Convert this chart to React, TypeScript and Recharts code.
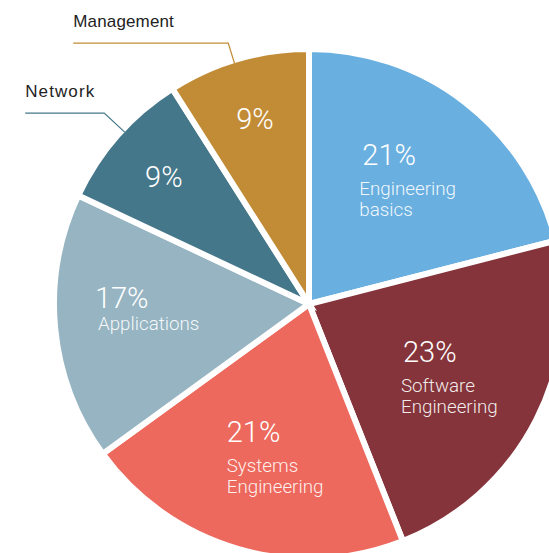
import React from 'react';
import { PieChart, Pie, Cell } from 'recharts';

const categories = [
  'Engineering basics',
  'Software Engineering',
  'Systems Engineering',
  'Applications',
  'Network',
  'Management',
];
const shares = [21, 23, 21, 17, 9, 9];
const colors = ['#69AFE0', '#84343A', '#ED695D', '#96B4C2', '#45778A', '#C28C37'];

const data = categories.map((name, i) => ({ name, value: shares[i] }));

const RAD = Math.PI / 180;

// styling tweaks for the label layout (not data)
const LEADER: Record<string, { da: number; r: number; len: number; ls: number }> = {
  Network: { da: -1.6, r: 28, len: 79, ls: 1.1 },
  Management: { da: 1.0, r: 21, len: 155, ls: 0.15 },
};
const NUDGE: Record<string, { dx: number; pdx: number }> = {
  'Engineering basics': { dx: -47, pdx: 3 },
  'Software Engineering': { dx: -49.5, pdx: 2 },
  'Systems Engineering': { dx: -38, pdx: 0 },
  Applications: { dx: -53, pdx: -3 },
};

const FONT = 'Roboto, "Liberation Sans", sans-serif';

function renderLabel(props: any) {
  const { cx, cy, midAngle, outerRadius, index } = props;
  const name = categories[index];
  const value = shares[index];
  const R = outerRadius - 3;
  const cos = Math.cos(-midAngle * RAD);
  const sin = Math.sin(-midAngle * RAD);

  if (value < 10) {
    const r = 0.768 * R;
    const px = cx + r * cos;
    const py = cy + r * sin;
    const lead = LEADER[name] ?? { da: 0, r: 26, len: 80, ls: 0 };
    const a = -(midAngle + lead.da) * RAD;
    const ex = cx + R * Math.cos(a);
    const ey = cy + R * Math.sin(a);
    const bx = cx + (R + lead.r) * Math.cos(a);
    const by = cy + (R + lead.r) * Math.sin(a);
    const endX = bx - lead.len;
    return (
      <g key={`lbl-${index}`}>
        <text x={px} y={py + 10.5} textAnchor="middle" fill="#fff" fontSize={29}
          style={{ fontFamily: FONT, fontWeight: 300 }}>
          {`${value}%`}
        </text>
        <polyline
          points={`${ex},${ey} ${bx},${by} ${endX},${by}`}
          fill="none"
          stroke={colors[index]}
          strokeWidth={1.2}
        />
        <text x={endX} y={by - 16} textAnchor="start" fill="#222" fontSize={17}
          style={{ fontFamily: '"Liberation Sans", Arial, sans-serif', letterSpacing: lead.ls }}>
          {name}
        </text>
      </g>
    );
  }

  const r = 0.63 * R;
  const ax = cx + r * cos;
  const ay = cy + r * sin;
  const lines = name.split(' ');
  const nudge = NUDGE[name] ?? { dx: -48, pdx: 0 };
  const left = ax + nudge.dx;
  const single = lines.length === 1;
  const pctY = single ? ay - 11 : ay - 14;
  const firstNameY = single ? ay + 11.5 : ay + 16;
  return (
    <g key={`lbl-${index}`}>
      <text x={left + nudge.pdx} y={pctY} textAnchor="start" fill="#fff" fontSize={29}
        style={{ fontFamily: FONT, fontWeight: 300 }}>
        {`${value}%`}
      </text>
      {lines.map((ln, k) => (
        <text key={k} x={left} y={firstNameY + k * 21} textAnchor="start" fill="#fff"
          fillOpacity={0.92} fontSize={18.8} style={{ fontFamily: FONT, fontWeight: 300 }}>
          {ln}
        </text>
      ))}
    </g>
  );
}

export default function App() {
  return (
    <div style={{ position: 'absolute', left: 0, top: 0, width: 549, height: 553, background: '#fff' }}>
      <PieChart width={549} height={553} margin={{ top: 0, right: 0, bottom: 0, left: 0 }}>
        <Pie
          data={data}
          dataKey="value"
          nameKey="name"
          cx={309}
          cy={304}
          outerRadius={255}
          startAngle={90}
          endAngle={-270}
          stroke="#fff"
          strokeWidth={6}
          label={renderLabel}
          labelLine={false}
          isAnimationActive={false}
        >
          {data.map((d, i) => (
            <Cell key={d.name} fill={colors[i]} stroke="#fff" strokeWidth={6} />
          ))}
        </Pie>
      </PieChart>
    </div>
  );
}
